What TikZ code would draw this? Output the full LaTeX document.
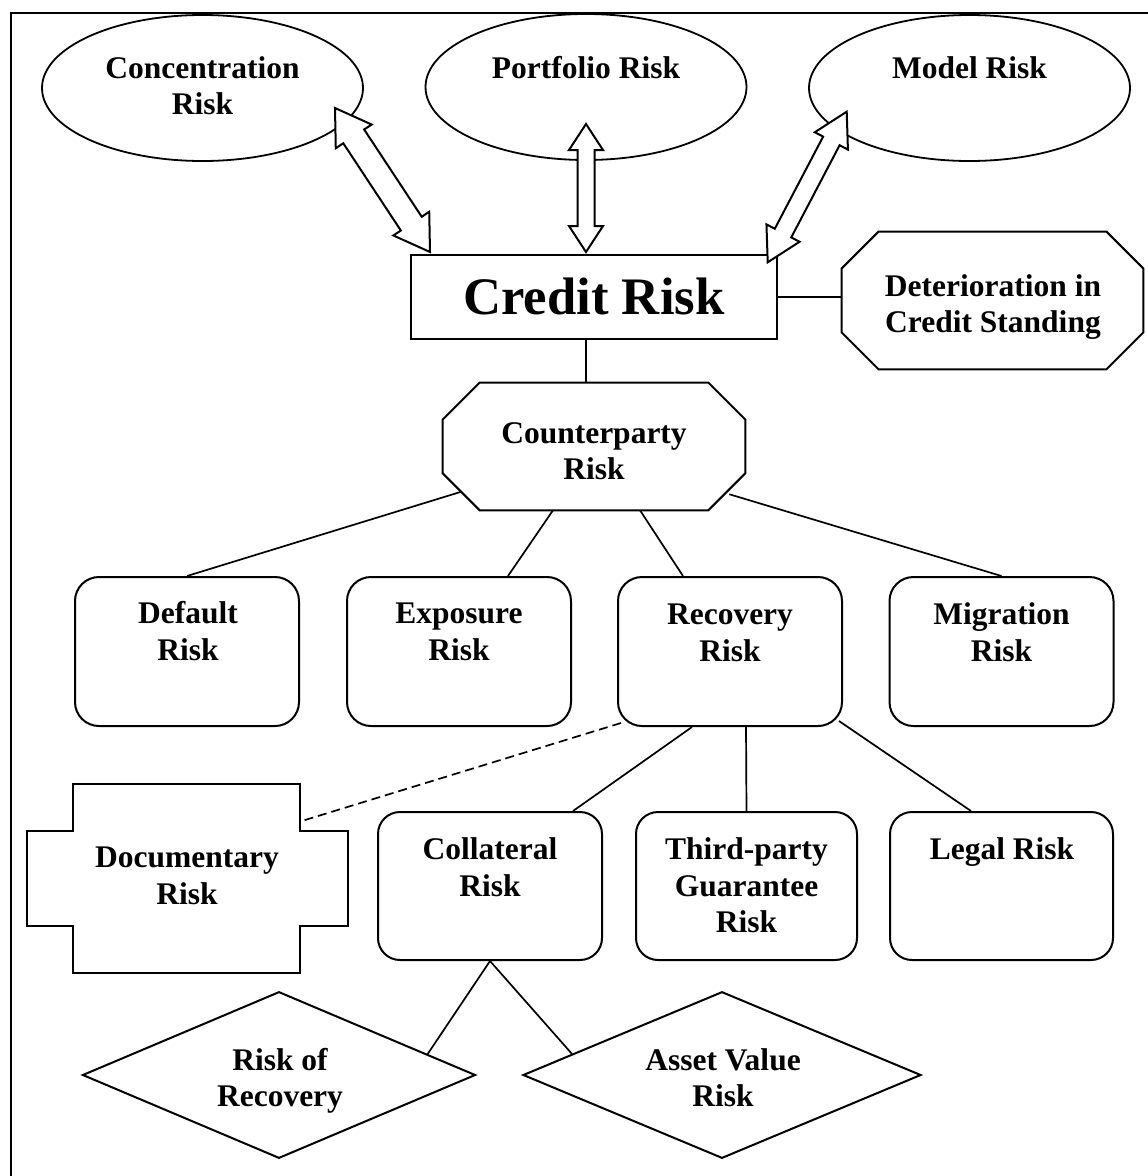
\documentclass[tikz,border=0pt]{standalone}
\usepackage{fontspec}
\setmainfont{Liberation Serif}
\usetikzlibrary{calc,shapes.geometric}

% two-headed block arrow between tips #1 and #2
% #3 shaft half width, #4 head half width, #5 head length
\newcommand\twowayarrow[5]{%
  \draw[arrowbody] (#1)
   -- ($(#1)!#5!(#2)!#4!90:(#2)$)
   -- ($(#1)!#5!(#2)!#3!90:(#2)$)
   -- ($(#2)!#5!(#1)!#3!-90:(#1)$)
   -- ($(#2)!#5!(#1)!#4!-90:(#1)$)
   -- (#2)
   -- ($(#2)!#5!(#1)!#4!90:(#1)$)
   -- ($(#2)!#5!(#1)!#3!90:(#1)$)
   -- ($(#1)!#5!(#2)!#3!-90:(#2)$)
   -- ($(#1)!#5!(#2)!#4!-90:(#2)$)
   -- cycle;}

% octagon drawn round an (invisible) rectangular node, corners cut by #2
\newcommand\octagonround[2]{%
  \draw[shapeline] ($(#1.north west)+(#2,0)$) -- ($(#1.north east)+(-#2,0)$)
   -- ($(#1.north east)+(0,#2)$) -- ($(#1.south east)+(0,-#2)$)
   -- ($(#1.south east)+(-#2,0)$) -- ($(#1.south west)+(#2,0)$)
   -- ($(#1.south west)+(0,-#2)$) -- ($(#1.north west)+(0,#2)$) -- cycle;}

\begin{document}
\begin{tikzpicture}[x=1pt,y=-1pt,
  shapeline/.style={line width=2pt, fill=white},
  oval/.style={ellipse, draw, line width=1.8pt, inner sep=0pt,
    minimum width=321pt, minimum height=146pt},
  plainbox/.style={rectangle, draw, line width=2pt, inner sep=0pt},
  roundbox/.style={rectangle, draw, line width=2pt, rounded corners=24pt,
    inner sep=0pt, minimum width=224pt, minimum height=149pt},
  frameonly/.style={rectangle, inner sep=0pt},
  gem/.style={diamond, draw, line width=2pt, inner sep=0pt},
  link/.style={line width=1.7pt},
  arrowbody/.style={line width=2pt, fill=white, line join=miter},
  lbl/.style={font=\bfseries\fontsize{31.5}{36.5}\selectfont, align=center,
    anchor=north, inner sep=0pt, yshift=25.55pt},
]
\useasboundingbox (0,0) rectangle (1148,1176);

% outer frame (left and top sides)
\draw[line width=2pt] (11,1176) -- (11,12.5) -- (1148,12.5);

% top row of ovals
\node[oval] (conc) at (202.5,88) {};
\node[oval] (port) at (586,87) {};
\node[oval] (model) at (969.5,88) {};

% central box
\node[plainbox, minimum width=366pt, minimum height=84pt] (cr) at (594,297) {};

% deterioration octagon
\node[frameonly, minimum width=301.5pt, minimum height=137.3pt] (det) at (992.5,300.4) {};
\octagonround{det}{37}

% counterparty octagon
\node[frameonly, minimum width=302.3pt, minimum height=127.3pt] (cp) at (594,446.4) {};
\octagonround{cp}{37}

% second row
\node[roundbox] (def) at (187,651.5) {};
\node[roundbox] (exp) at (459,651.5) {};
\node[roundbox] (rec) at (730,651.5) {};
\node[roundbox] (mig) at (1001.5,651.5) {};

% third row
\node[frameonly, minimum width=226pt, minimum height=188.7pt] (doc) at (186.3,878.4) {};
\draw[shapeline] (doc.north west) -- (doc.north east) -- ($(doc.north east)+(0,47)$)
  -- ($(doc.north east)+(48.4,47)$) -- ($(doc.south east)+(48.4,-47)$)
  -- ($(doc.south east)+(0,-47)$) -- (doc.south east) -- (doc.south west)
  -- ($(doc.south west)+(0,-47)$) -- ($(doc.south west)+(-46.6,-47)$)
  -- ($(doc.north west)+(-46.6,47)$) -- ($(doc.north west)+(0,47)$) -- cycle;
\node[roundbox, rounded corners=22pt, minimum height=148pt] (col) at (490,886) {};
\node[roundbox, rounded corners=22pt, minimum width=221pt, minimum height=148pt] (tp) at (746.5,886) {};
\node[roundbox, rounded corners=22pt, minimum width=223pt, minimum height=148pt] (leg) at (1001.5,886) {};

% diamonds
\node[gem, minimum width=393pt, minimum height=166.6pt] (rr) at (279,1075) {};
\node[gem, minimum width=398pt, minimum height=166.6pt] (av) at (722,1075) {};

% connectors
\draw[link] ([xshift=-8pt]cr.south) -- ([xshift=-8pt]cp.north);
\draw[link] (cr.east) -- (cr.east -| det.west);
\draw[link] ($(cp.south west)+(18.5,-18.5)$) -- (def.north);
\draw[link] ([xshift=-41pt]cp.south) -- ([xshift=49pt]exp.north);
\draw[link] ([xshift=46pt]cp.south) -- ([xshift=-47pt]rec.north);
\draw[link] ($(cp.south east)+(-16,-16)$) -- (mig.north);
\draw[link, dash pattern=on 9pt off 5pt] ([xshift=4pt,yshift=4pt]rec.south west) -- ([yshift=56.7pt]doc.east);
\draw[link] ([xshift=-38pt]rec.south) -- ([xshift=83pt]col.north);
\draw[link] ([xshift=16pt]rec.south) -- ([xshift=0pt]tp.north);
\draw[link] ([xshift=-4pt,yshift=6pt]rec.south east) -- ([xshift=-30.5pt]leg.north);
\draw[link] (col.south) -- (rr.8.7);
\draw[link] (col.south) -- (av.172.5);

% block arrows between the ovals and the central box
\coordinate (la) at ([shift={(132.5,20)}]conc.center);
\coordinate (lb) at ([xshift=20pt,yshift=2pt]cr.north west);
\coordinate (ma) at ([shift={(0,37)}]port.center);
\coordinate (mb) at ([xshift=-8pt,yshift=2pt]cr.north);
\coordinate (ra) at ([shift={(-122.8,23.7)}]model.center);
\coordinate (rb) at ([xshift=-10.3pt,yshift=-8.3pt]cr.north east);
\twowayarrow{la}{lb}{12.5pt}{21.5pt}{34pt}
\twowayarrow{ma}{mb}{8.5pt}{17pt}{26pt}
\twowayarrow{ra}{rb}{9.3pt}{18.7pt}{33pt}

% texts (the strut fixes the top of each first line)
\node[lbl] (t-conc) at (202.5,78) {\strut Concentration\\Risk};
\node[lbl] (t-port) at (586,78) {\strut Portfolio Risk};
\node[lbl] (t-model) at (969.5,78) {\strut Model Risk};
\node[font=\bfseries\fontsize{52.7}{60}\selectfont, anchor=base, inner sep=0pt] (t-cr) at (594,314) {Credit Risk};
\node[lbl] (t-det) at (993,296) {\strut Deterioration in\\Credit Standing};
\node[lbl] (t-cp) at (594,443) {\strut Counterparty\\Risk};
\node[lbl] (t-def) at (188,623.5) {\strut Default\\Risk};
\node[lbl] (t-exp) at (459,623.5) {\strut Exposure\\Risk};
\node[lbl] (t-rec) at (730,624.5) {\strut Recovery\\Risk};
\node[lbl] (t-mig) at (1001.5,624.5) {\strut Migration\\Risk};
\node[lbl] (t-doc) at (187,867.5) {\strut Documentary\\Risk};
\node[lbl] (t-col) at (490,859.5) {\strut Collateral\\Risk};
\node[lbl] (t-tp) at (746.5,859.5) {\strut Third-party\\Guarantee\\Risk};
\node[lbl] (t-leg) at (1002,859.5) {\strut Legal Risk};
\node[lbl] (t-rr) at (280,1070) {\strut Risk of\\Recovery};
\node[lbl] (t-av) at (723,1070) {\strut Asset Value\\Risk};
\end{tikzpicture}
\end{document}
